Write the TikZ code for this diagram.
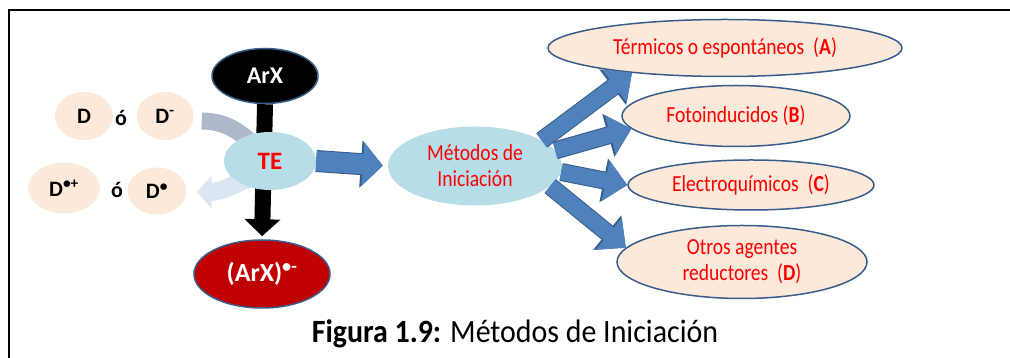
\documentclass[tikz,border=0pt]{standalone}
\usepackage{fontspec}
\setmainfont{Carlito}
\newfontfamily\narrowfont{Carlito}[FakeStretch=0.85]
\newfontfamily\capfont{Carlito}[FakeStretch=0.92]
\usepackage{xcolor}
\usepackage{tikz}
\usetikzlibrary{shapes,arrows.meta,positioning,calc}

\definecolor{paleblue}{HTML}{B7DEE8}
\definecolor{peach}{HTML}{FDE9D9}
\definecolor{edgeblue}{HTML}{385D8A}
\definecolor{arrowblue}{HTML}{4F81BD}
\definecolor{darkred}{HTML}{C00000}
\definecolor{grayband}{HTML}{ADB9CA}
\definecolor{paleband}{HTML}{DCE6F2}

\newcommand{\fsz}[2]{\fontsize{#1}{#2}\selectfont}

\tikzset{
  oval/.style={ellipse, inner sep=0pt, align=center},
  donor/.style={oval, fill=peach, font=\fsz{22}{22}\bfseries},
  method/.style={oval, fill=peach, draw=edgeblue, line width=1.5pt, text=red, font=\narrowfont\fsz{23}{26}},
  bluearrow/.style={arrowblue, line width=16pt, -{Triangle[width=40pt,length=22pt]},
    preaction={draw=edgeblue, line width=18pt, -{Triangle[width=43pt,length=24pt]}}},
}

\begin{document}
\begin{tikzpicture}[x=1pt,y=1pt]
    \useasboundingbox (0,0) rectangle (1010,358);
    \draw[line width=1.5pt] (9,0) -- (9,348) -- (1010,348);

    % donores
    \node[donor, minimum width=58pt, minimum height=48pt] (d1) at (84,242) {D};
    \node[font=\fsz{22}{22}\bfseries] (o1) at (121,240) {ó};
    \node[donor, minimum width=57pt, minimum height=48pt] (dm) at (165,242) {D\textsuperscript{-}};
    \node[donor, minimum width=72pt, minimum height=51pt] (dp) at (64,170) {D\textsuperscript{•+}};
    \node[font=\fsz{22}{22}\bfseries] (o2) at (117,168) {ó};
    \node[donor, minimum width=59pt, minimum height=47pt] (dd) at (157,167) {D\textsuperscript{•}};

    % sustrato
    \node[oval, fill=black, draw=edgeblue, line width=1.5pt, text=white, font=\fsz{24}{24}\bfseries,
          minimum width=106pt, minimum height=55pt] (arx) at (265,282) {ArX};
    \node[oval, fill=darkred, draw=edgeblue, line width=1.5pt, text=white, font=\fsz{26}{26}\bfseries,
          minimum width=136pt, minimum height=68pt] (arxr) at (262,84) {(ArX)\textsuperscript{•-}};

    \draw[line width=16pt, -{Triangle[width=35pt,length=17pt]}, shorten >=3pt] (arx.south) -- (arxr.north);
    \draw[grayband, line width=17pt] ($(dm.east)+(8,-5)$) to[out=0, in=135] (270,197);
    \draw[paleband, line width=18pt, -{Triangle[width=32pt,length=15pt]}]
        (262,185) to[out=200, in=0] ($(dd.east)+(10,-1)$);

    \node[oval, fill=paleblue, text=red, font=\fsz{25}{25}\bfseries,
          minimum width=92pt, minimum height=58pt] (te) at (270,197) {TE};

    % metodos
    \node[oval, fill=paleblue, text=red, font=\narrowfont\fsz{23}{26},
          minimum width=174pt, minimum height=79pt] (met) at (475,192) {Métodos de\\Iniciación};
    \node[method, minimum width=354pt, minimum height=57pt] (ta) at (725,310) {Térmicos o espontáneos~~(\textbf{A})};
    \node[method, minimum width=228pt, minimum height=61pt] (tb) at (736,242) {Fotoinducidos (\textbf{B})};
    \node[method, minimum width=246pt, minimum height=50pt] (tc) at (751,173) {Electroquímicos~~(\textbf{C})};
    \node[method, minimum width=250pt, minimum height=73pt] (td) at (742,96) {Otros agentes\\reductores~~(\textbf{D})};

    \draw[arrowblue, line width=20pt, -{Triangle[width=43pt,length=20pt]}, shorten >=5pt,
          preaction={draw=edgeblue, line width=22pt, -{Triangle[width=46pt,length=22pt]}, shorten >=5pt}]
          (te.east) -- (met.west);
    \draw[bluearrow] (met.21) -- (ta.195);
    \draw[bluearrow] (met.11) -- (tb.187);
    \draw[bluearrow] (met.-4) -- (tc.west);
    \draw[bluearrow] (met.-15) -- (td.173);

    \node[font=\capfont\fsz{32.5}{32.5}] (cap) at (515,24) {\textbf{Figura 1.9:} Métodos de Iniciación};
\end{tikzpicture}
\end{document}
